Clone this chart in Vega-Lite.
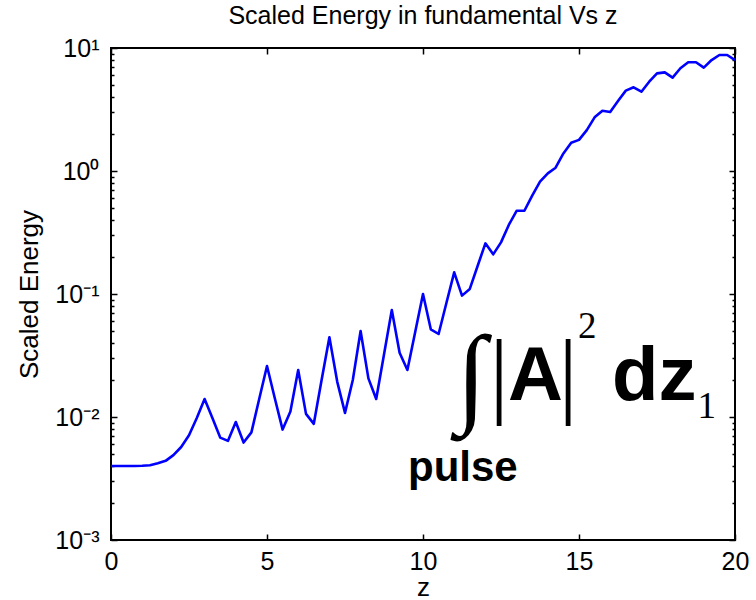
{
  "$schema": "https://vega.github.io/schema/vega-lite/v6.json",
  "width": 624,
  "height": 492,
  "autosize": {"type": "none"},
  "padding": {"left": 111, "top": 48, "right": 21, "bottom": 60},
  "background": "white",
  "config": {
    "view": {"stroke": "black", "strokeWidth": 2},
    "font": "Liberation Sans",
    "axis": {
      "domain": false,
      "grid": false,
      "labelFont": "Liberation Sans",
      "labelFontSize": 25,
      "labelColor": "black",
      "labelFlush": false,
      "labelOverlap": false,
      "tickColor": "black",
      "tickWidth": 1.5,
      "titleFont": "Liberation Sans",
      "titleFontSize": 26,
      "titleFontWeight": "normal",
      "titleColor": "black"
    }
  },
  "title": {
    "text": "Scaled Energy in fundamental Vs z",
    "font": "Liberation Sans",
    "fontSize": 25,
    "fontWeight": "normal",
    "color": "black",
    "baseline": "alphabetic",
    "frame": "group",
    "offset": 0,
    "dy": 13
  },
  "datasets": {
    "energy": [
      {"z": 0, "energy": 0.0040},
      {"z": 0.25, "energy": 0.0040},
      {"z": 0.5, "energy": 0.0040},
      {"z": 0.75, "energy": 0.0040},
      {"z": 1.0, "energy": 0.00401},
      {"z": 1.25, "energy": 0.00405},
      {"z": 1.5, "energy": 0.0042},
      {"z": 1.75, "energy": 0.0044},
      {"z": 2.0, "energy": 0.0049},
      {"z": 2.25, "energy": 0.0057},
      {"z": 2.5, "energy": 0.0071},
      {"z": 2.75, "energy": 0.0098},
      {"z": 3.0, "energy": 0.0140},
      {"z": 3.25, "energy": 0.0098},
      {"z": 3.5, "energy": 0.0068},
      {"z": 3.75, "energy": 0.0064},
      {"z": 4.0, "energy": 0.0091},
      {"z": 4.25, "energy": 0.0062},
      {"z": 4.5, "energy": 0.0075},
      {"z": 4.75, "energy": 0.0140},
      {"z": 5.0, "energy": 0.0260},
      {"z": 5.25, "energy": 0.0142},
      {"z": 5.5, "energy": 0.0079},
      {"z": 5.75, "energy": 0.0111},
      {"z": 6.0, "energy": 0.0241},
      {"z": 6.25, "energy": 0.0106},
      {"z": 6.5, "energy": 0.0088},
      {"z": 6.75, "energy": 0.0200},
      {"z": 7.0, "energy": 0.0445},
      {"z": 7.25, "energy": 0.0194},
      {"z": 7.5, "energy": 0.0108},
      {"z": 7.75, "energy": 0.0200},
      {"z": 8.0, "energy": 0.0500},
      {"z": 8.25, "energy": 0.0206},
      {"z": 8.5, "energy": 0.0140},
      {"z": 8.75, "energy": 0.0322},
      {"z": 9.0, "energy": 0.0740},
      {"z": 9.25, "energy": 0.0333},
      {"z": 9.5, "energy": 0.0241},
      {"z": 9.75, "energy": 0.0491},
      {"z": 10.0, "energy": 0.100},
      {"z": 10.25, "energy": 0.0516},
      {"z": 10.5, "energy": 0.0473},
      {"z": 10.75, "energy": 0.0845},
      {"z": 11.0, "energy": 0.150},
      {"z": 11.25, "energy": 0.097},
      {"z": 11.5, "energy": 0.110},
      {"z": 11.75, "energy": 0.169},
      {"z": 12.0, "energy": 0.258},
      {"z": 12.25, "energy": 0.210},
      {"z": 12.5, "energy": 0.263},
      {"z": 12.75, "energy": 0.364},
      {"z": 13.0, "energy": 0.475},
      {"z": 13.25, "energy": 0.475},
      {"z": 13.5, "energy": 0.63},
      {"z": 13.75, "energy": 0.818},
      {"z": 14.0, "energy": 0.957},
      {"z": 14.25, "energy": 1.063},
      {"z": 14.5, "energy": 1.39},
      {"z": 14.75, "energy": 1.70},
      {"z": 15.0, "energy": 1.79},
      {"z": 15.25, "energy": 2.15},
      {"z": 15.5, "energy": 2.73},
      {"z": 15.75, "energy": 3.09},
      {"z": 16.0, "energy": 3.02},
      {"z": 16.25, "energy": 3.71},
      {"z": 16.5, "energy": 4.50},
      {"z": 16.75, "energy": 4.79},
      {"z": 17.0, "energy": 4.41},
      {"z": 17.25, "energy": 5.32},
      {"z": 17.5, "energy": 6.22},
      {"z": 17.75, "energy": 6.34},
      {"z": 18.0, "energy": 5.74},
      {"z": 18.25, "energy": 6.84},
      {"z": 18.5, "energy": 7.66},
      {"z": 18.75, "energy": 7.66},
      {"z": 19.0, "energy": 6.92},
      {"z": 19.25, "energy": 7.98},
      {"z": 19.5, "energy": 8.77},
      {"z": 19.75, "energy": 8.77},
      {"z": 20.0, "energy": 7.98}
    ],
    "integral": [{"z": 11.55, "energy": 0.01098, "t": "∫"}],
    "bars": [
      {"z": 12.436, "energy": 0.01229, "t": "|"},
      {"z": 14.647, "energy": 0.01229, "t": "|"}
    ],
    "bigbold": [
      {"z": 12.724, "energy": 0.01374, "t": "A"},
      {"z": 16.058, "energy": 0.01374, "t": "dz"}
    ],
    "small": [
      {"z": 14.97, "energy": 0.0435, "t": "2"},
      {"z": 18.8, "energy": 0.00982, "t": "1"}
    ],
    "pulse": [{"z": 9.52, "energy": 0.00302, "t": "pulse"}]
  },
  "layer": [
    {
      "data": {"name": "energy"},
      "mark": {"type": "line", "color": "#0000ff", "strokeWidth": 2.6, "strokeJoin": "round", "clip": true},
      "encoding": {
        "x": {
          "field": "z", "type": "quantitative",
          "scale": {"domain": [0, 20], "nice": false, "zero": false},
          "axis": {"orient": "bottom", "values": [0, 5, 10, 15, 20], "tickSize": -6, "labelPadding": 15, "title": "z", "titlePadding": 0}
        },
        "y": {
          "field": "energy", "type": "quantitative",
          "scale": {"type": "log", "domain": [0.001, 10], "nice": false},
          "axis": {
            "orient": "left", "values": [0.001, 0.01, 0.1, 1, 10], "tickSize": -6, "labelPadding": 18,
            "labelExpr": "'10' + (datum.value > 5 ? '¹' : datum.value > 0.5 ? '⁰' : datum.value > 0.05 ? '⁻¹' : datum.value > 0.005 ? '⁻²' : '⁻³')",
            "title": "Scaled Energy", "titlePadding": 12
          }
        }
      }
    },
    {
      "data": {"name": "energy"},
      "mark": {"type": "line", "opacity": 0},
      "encoding": {
        "x": {"field": "z", "type": "quantitative", "axis": {"orient": "top", "values": [0, 5, 10, 15, 20], "tickSize": -6, "labels": false, "title": null}},
        "y": {"field": "energy", "type": "quantitative", "axis": {"orient": "right", "values": [0.001, 0.01, 0.1, 1, 10], "tickSize": -6, "labels": false, "title": null}}
      }
    },
    {
      "data": {"name": "energy"},
      "mark": {"type": "line", "opacity": 0},
      "encoding": {
        "x": {"field": "z", "type": "quantitative", "axis": null},
        "y": {"field": "energy", "type": "quantitative", "axis": {"orient": "left", "values": [0.002, 0.003, 0.004, 0.005, 0.006, 0.007, 0.008, 0.009, 0.02, 0.03, 0.04, 0.05, 0.06, 0.07, 0.08, 0.09, 0.2, 0.3, 0.4, 0.5, 0.6, 0.7, 0.8, 0.9, 2, 3, 4, 5, 6, 7, 8, 9], "tickSize": -3, "labels": false, "title": null}}
      }
    },
    {
      "data": {"name": "energy"},
      "mark": {"type": "line", "opacity": 0},
      "encoding": {
        "x": {"field": "z", "type": "quantitative", "axis": null},
        "y": {"field": "energy", "type": "quantitative", "axis": {"orient": "right", "values": [0.002, 0.003, 0.004, 0.005, 0.006, 0.007, 0.008, 0.009, 0.02, 0.03, 0.04, 0.05, 0.06, 0.07, 0.08, 0.09, 0.2, 0.3, 0.4, 0.5, 0.6, 0.7, 0.8, 0.9, 2, 3, 4, 5, 6, 7, 8, 9], "tickSize": -3, "labels": false, "title": null}}
      }
    },
    {
      "data": {"name": "integral"},
      "mark": {"type": "text", "font": "Liberation Serif", "fontSize": 110, "align": "center", "baseline": "alphabetic", "color": "black"},
      "encoding": {
        "x": {"field": "z", "type": "quantitative", "axis": null},
        "y": {"field": "energy", "type": "quantitative", "axis": null},
        "text": {"field": "t"}
      }
    },
    {
      "data": {"name": "bars"},
      "mark": {"type": "text", "font": "Liberation Serif", "fontSize": 96, "align": "center", "baseline": "alphabetic", "color": "black"},
      "encoding": {
        "x": {"field": "z", "type": "quantitative", "axis": null},
        "y": {"field": "energy", "type": "quantitative", "axis": null},
        "text": {"field": "t"}
      }
    },
    {
      "data": {"name": "bigbold"},
      "mark": {"type": "text", "font": "Liberation Sans", "fontWeight": "bold", "fontSize": 76, "align": "left", "baseline": "alphabetic", "color": "black"},
      "encoding": {
        "x": {"field": "z", "type": "quantitative", "axis": null},
        "y": {"field": "energy", "type": "quantitative", "axis": null},
        "text": {"field": "t"}
      }
    },
    {
      "data": {"name": "small"},
      "mark": {"type": "text", "font": "Liberation Serif", "fontSize": 37, "align": "left", "baseline": "alphabetic", "color": "black"},
      "encoding": {
        "x": {"field": "z", "type": "quantitative", "axis": null},
        "y": {"field": "energy", "type": "quantitative", "axis": null},
        "text": {"field": "t"}
      }
    },
    {
      "data": {"name": "pulse"},
      "mark": {"type": "text", "font": "Liberation Sans", "fontWeight": "bold", "fontSize": 42, "align": "left", "baseline": "alphabetic", "color": "black"},
      "encoding": {
        "x": {"field": "z", "type": "quantitative", "axis": null},
        "y": {"field": "energy", "type": "quantitative", "axis": null},
        "text": {"field": "t"}
      }
    }
  ],
  "resolve": {"axis": {"x": "independent", "y": "independent"}}
}
